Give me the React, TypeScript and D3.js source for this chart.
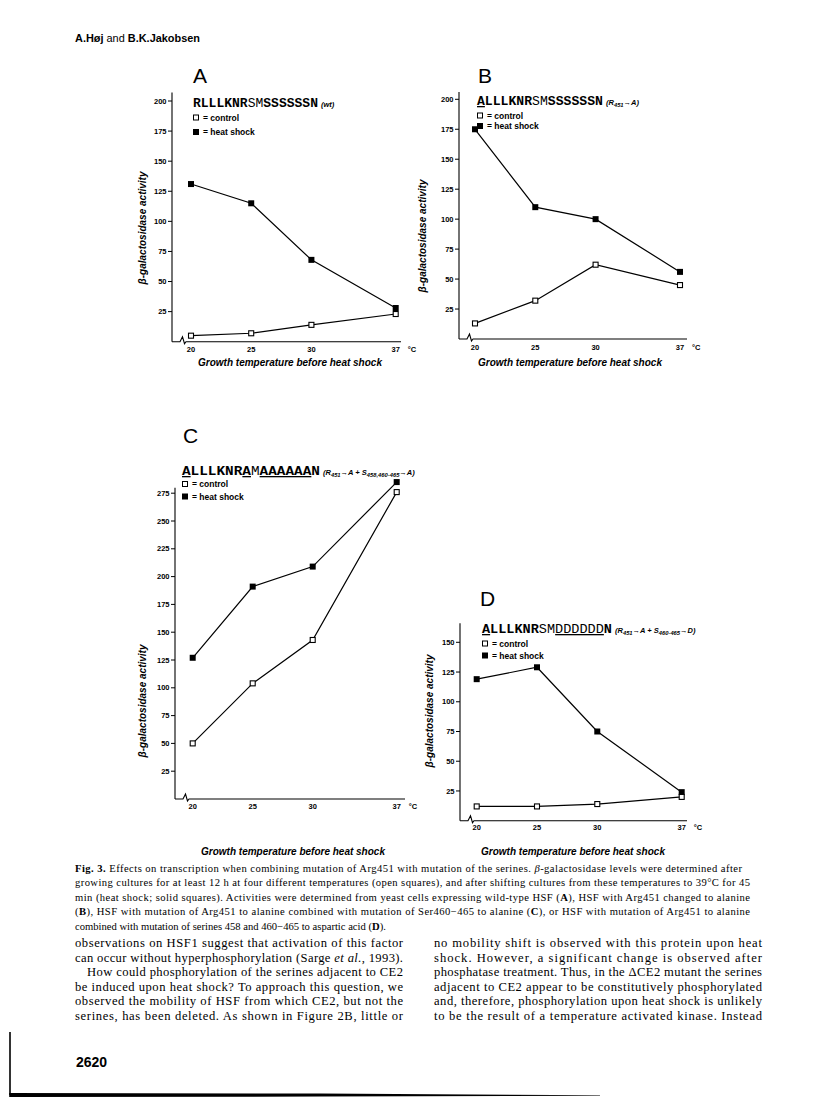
import React from 'react';
import * as d3 from 'd3';

// ---------- data ----------
const temps = [20, 25, 30, 37];
const tempLabels = ['20', '25', '30', '37'];
const aControl = [5, 7, 14, 23];
const aHeat = [131, 115, 68, 28];
const bControl = [13, 32, 62, 45];
const bHeat = [175, 110, 100, 56];
const cControl = [50, 104, 143, 276];
const cHeat = [127, 191, 209, 285];
const dControl = [12, 12, 14, 20];
const dHeat = [119, 129, 75, 24];
const yTicksAB = [25, 50, 75, 100, 125, 150, 175, 200];
const yTicksC = [25, 50, 75, 100, 125, 150, 175, 200, 225, 250, 275];
const yTicksD = [25, 50, 75, 100, 125, 150];

type Seg = { t: string; b?: boolean; u?: boolean };
type NoteSeg = { t: string; sub?: boolean };

const seqA: Seg[] = [{ t: 'RLLLKNR', b: true }, { t: 'SM' }, { t: 'SSSSSSN', b: true }];
const noteA: NoteSeg[] = [{ t: '(wt)' }];
const seqB: Seg[] = [{ t: 'A', b: true, u: true }, { t: 'LLLKNR', b: true }, { t: 'SM' }, { t: 'SSSSSSN', b: true }];
const noteB: NoteSeg[] = [{ t: '(R' }, { t: '451', sub: true }, { t: '\u2192A)' }];
const seqC: Seg[] = [{ t: 'A', b: true, u: true }, { t: 'LLLKNR', b: true }, { t: 'A', b: true, u: true }, { t: 'M' }, { t: 'AAAAAA', b: true, u: true }, { t: 'N', b: true }];
const noteC: NoteSeg[] = [{ t: '(R' }, { t: '451', sub: true }, { t: '\u2192A + S' }, { t: '458,460-465', sub: true }, { t: '\u2192A)' }];
const seqD: Seg[] = [{ t: 'A', b: true, u: true }, { t: 'LLLKNR', b: true }, { t: 'SM' }, { t: 'DDDDDD', u: true }, { t: 'N', b: true }];
const noteD: NoteSeg[] = [{ t: '(R' }, { t: '451', sub: true }, { t: '\u2192A + S' }, { t: '460-465', sub: true }, { t: '\u2192D)' }];

// ---------- layout ----------
type Layout = {
  letter: string; axisX: number; x20: number; x37: number; y0: number; refVal: number; refPx: number;
  yTop: number; xEnd: number; letterX: number; letterY: number; seqX: number; seqY: number; seqW: number;
  ctrlY: number; heatY: number; yLabX: number; yLabY: number; xLabX: number; xLabY: number; tickY: number;
};

const layA: Layout = { letter: 'A', axisX: 172, x20: 191, x37: 395.7, y0: 341.7, refVal: 200, refPx: 101, yTop: 207, xEnd: 401,
  letterX: 193, letterY: 83, seqX: 193, seqY: 107, seqW: 125, ctrlY: 120.5, heatY: 135, yLabX: 146, yLabY: 228, xLabX: 290, xLabY: 366, tickY: 352 };
const layB: Layout = { letter: 'B', axisX: 459, x20: 475, x37: 680, y0: 339, refVal: 200, refPx: 99.3, yTop: 206, xEnd: 687,
  letterX: 478, letterY: 83, seqX: 477, seqY: 105, seqW: 126, ctrlY: 118.5, heatY: 129, yLabX: 426, yLabY: 236, xLabX: 570, xLabY: 366, tickY: 350 };
const layC: Layout = { letter: 'C', axisX: 175, x20: 192.7, x37: 396.7, y0: 799, refVal: 275, refPx: 493.2, yTop: 280, xEnd: 405,
  letterX: 183, letterY: 443, seqX: 182, seqY: 475, seqW: 138, ctrlY: 487, heatY: 499.5, yLabX: 146, yLabY: 701, xLabX: 293, xLabY: 855, tickY: 809 };
const layD: Layout = { letter: 'D', axisX: 460, x20: 476.7, x37: 681.7, y0: 820.7, refVal: 150, refPx: 642.3, yTop: 166, xEnd: 687,
  letterX: 480, letterY: 606, seqX: 482, seqY: 633, seqW: 130, ctrlY: 646.5, heatY: 658.5, yLabX: 433, yLabY: 711, xLabX: 573, xLabY: 855, tickY: 830 };

const SANS = 'Liberation Sans, Arial, sans-serif';
const SERIF = 'Liberation Serif, Times New Roman, serif';
const MONO = 'Liberation Mono, Courier New, monospace';

function Panel({ L, control, heat, yTicks, seq, note }: { L: Layout; control: number[]; heat: number[]; yTicks: number[]; seq: Seg[]; note: NoteSeg[] }) {
  const x = d3.scaleLinear().domain([20, 37]).range([L.x20, L.x37]);
  const y = d3.scaleLinear().domain([0, L.refVal]).range([L.y0, L.refPx]);
  const line = d3.line<number>().x((_, i) => x(temps[i])).y((d) => y(d));
  const ax = L.axisX, by = y(0);
  const xAxisPath = `M${ax},${by} H${ax + 8} L${ax + 10.5},${by - 5} L${ax + 12.5},${by + 2} L${ax + 14},${by} H${L.xEnd}`;
  const sq = 5;
  return (
    <g>
      <text x={L.letterX} y={L.letterY} fontFamily={SANS} fontSize={21}>{L.letter}</text>
      {/* axes */}
      <line x1={ax} x2={ax} y1={y(L.yTop)} y2={by} stroke="#000" strokeWidth={1.1} />
      <path d={xAxisPath} fill="none" stroke="#000" strokeWidth={1.1} />
      {yTicks.map((t) => (
        <g key={t}>
          <line x1={ax - 4} x2={ax} y1={y(t)} y2={y(t)} stroke="#000" strokeWidth={1} />
          <text x={ax - 5.5} y={y(t)} dy="0.35em" textAnchor="end" fontFamily={SANS} fontWeight="bold" fontSize={7.5}>{t}</text>
        </g>
      ))}
      {temps.map((t, i) => (
        <text key={t} x={x(t)} y={L.tickY} textAnchor="middle" fontFamily={SANS} fontWeight="bold" fontSize={7.5}>{tempLabels[i]}</text>
      ))}
      <text x={x(37) + 12} y={L.tickY} fontFamily={SANS} fontWeight="bold" fontSize={7.5}>°C</text>
      <text x={L.xLabX} y={L.xLabY} textAnchor="middle" fontFamily={SANS} fontWeight="bold" fontStyle="italic" fontSize={10}>Growth temperature before heat shock</text>
      <text transform={`translate(${L.yLabX},${L.yLabY}) rotate(-90)`} textAnchor="middle" fontFamily={SANS} fontWeight="bold" fontStyle="italic" fontSize={10}>β-galactosidase activity</text>
      {/* series */}
      <path d={line(heat) || ''} fill="none" stroke="#000" strokeWidth={1.2} />
      <path d={line(control) || ''} fill="none" stroke="#000" strokeWidth={1.2} />
      {heat.map((v, i) => (
        <rect key={'h' + i} x={x(temps[i]) - sq / 2 - 0.5} y={y(v) - sq / 2 - 0.5} width={sq + 1} height={sq + 1} fill="#000" />
      ))}
      {control.map((v, i) => (
        <rect key={'c' + i} x={x(temps[i]) - sq / 2} y={y(v) - sq / 2} width={sq} height={sq} fill="#fff" stroke="#000" strokeWidth={1.1} />
      ))}
      {/* title sequence */}
      <text x={L.seqX} y={L.seqY} fontFamily={MONO} fontSize={13} textLength={L.seqW} lengthAdjust="spacingAndGlyphs">
        {seq.map((s, i) => (
          <tspan key={i} fontWeight={s.b ? 'bold' : 'normal'} style={s.u ? { textDecoration: 'underline' } : undefined}>{s.t}</tspan>
        ))}
      </text>
      <text x={L.seqX + L.seqW + 3} y={L.seqY} fontFamily={SANS} fontStyle="italic" fontWeight="bold" fontSize={7.5}>
        {note.map((n, i) => (
          n.sub
            ? <tspan key={i} fontSize={5.8} dy={2}>{n.t}</tspan>
            : <tspan key={i} dy={i > 0 && note[i - 1].sub ? -2 : 0}>{n.t}</tspan>
        ))}
      </text>
      {/* legend */}
      <rect x={L.seqX + 0.5} y={L.ctrlY - 5.5} width={5} height={5} fill="#fff" stroke="#000" strokeWidth={1} />
      <text x={L.seqX + 10} y={L.ctrlY} fontFamily={SANS} fontWeight="bold" fontSize={8.5}>= control</text>
      <rect x={L.seqX} y={L.heatY - 6} width={6} height={6} fill="#000" />
      <text x={L.seqX + 10} y={L.heatY} fontFamily={SANS} fontWeight="bold" fontSize={8.5}>= heat shock</text>
    </g>
  );
}

// ---------- text ----------
const captionX = 75;
const captionW = 675;
const bodyW = 328;
const col1X = 75;
const col2X = 434;

export default function App() {
  const capY = [871.5, 886, 900.5, 915, 929.5];
  const bodyY = [947, 961.5, 976, 990.5, 1005, 1019.5];
  const col1 = [
    'observations on HSF1 suggest that activation of this factor',
    null,
    'How could phosphorylation of the serines adjacent to CE2',
    'be induced upon heat shock? To approach this question, we',
    'observed the mobility of HSF from which CE2, but not the',
    'serines, has been deleted. As shown in Figure 2B, little or',
  ];
  const col2 = [
    'no mobility shift is observed with this protein upon heat',
    'shock. However, a significant change is observed after',
    'phosphatase treatment. Thus, in the \u0394CE2 mutant the serines',
    'adjacent to CE2 appear to be constitutively phosphorylated',
    'and, therefore, phosphorylation upon heat shock is unlikely',
    'to be the result of a temperature activated kinase. Instead',
  ];
  return (
    <svg width={816} height={1104} style={{ position: 'absolute', left: 0, top: 0, background: '#fff' }}>
      <rect x={0} y={0} width={816} height={1104} fill="#fff" />
      <text x={75} y={42} fontFamily={SANS} fontSize={11} textLength={125} lengthAdjust="spacingAndGlyphs">
        <tspan fontWeight="bold">A.Høj</tspan> and <tspan fontWeight="bold">B.K.Jakobsen</tspan>
      </text>

      <Panel L={layA} control={aControl} heat={aHeat} yTicks={yTicksAB} seq={seqA} note={noteA} />
      <Panel L={layB} control={bControl} heat={bHeat} yTicks={yTicksAB} seq={seqB} note={noteB} />
      <Panel L={layC} control={cControl} heat={cHeat} yTicks={yTicksC} seq={seqC} note={noteC} />
      <Panel L={layD} control={dControl} heat={dHeat} yTicks={yTicksD} seq={seqD} note={noteD} />

      {/* caption */}
      <g fontFamily={SERIF} fontSize={10.6}>
        <text x={captionX} y={capY[0]} textLength={captionW - 8} lengthAdjust="spacing">
          <tspan fontWeight="bold">Fig. 3.</tspan> Effects on transcription when combining mutation of Arg451 with mutation of the serines. <tspan fontStyle="italic">β</tspan>-galactosidase levels were determined after
        </text>
        <text x={captionX} y={capY[1]} textLength={captionW} lengthAdjust="spacing">
          growing cultures for at least 12 h at four different temperatures (open squares), and after shifting cultures from these temperatures to 39°C for 45
        </text>
        <text x={captionX} y={capY[2]} textLength={captionW} lengthAdjust="spacing">
          min (heat shock; solid squares). Activities were determined from yeast cells expressing wild-type HSF (<tspan fontWeight="bold">A</tspan>), HSF with Arg451 changed to alanine
        </text>
        <text x={captionX} y={capY[3]} textLength={captionW} lengthAdjust="spacing">
          (<tspan fontWeight="bold">B</tspan>), HSF with mutation of Arg451 to alanine combined with mutation of Ser460{'\u2212'}465 to alanine (<tspan fontWeight="bold">C</tspan>), or HSF with mutation of Arg451 to alanine
        </text>
        <text x={captionX} y={capY[4]}>
          combined with mutation of serines 458 and 460{'\u2212'}465 to aspartic acid (<tspan fontWeight="bold">D</tspan>).
        </text>
      </g>

      {/* body text */}
      <g fontFamily={SERIF} fontSize={12.6}>
        {col1.map((s, i) =>
          s === null ? (
            <text key={i} x={col1X} y={bodyY[i]} textLength={bodyW} lengthAdjust="spacing">
              can occur without hyperphosphorylation (Sarge <tspan fontStyle="italic">et al.</tspan>, 1993).
            </text>
          ) : (
            <text key={i} x={i === 2 ? col1X + 12 : col1X} y={bodyY[i]} textLength={i === 2 ? bodyW - 12 : bodyW} lengthAdjust="spacing">{s}</text>
          )
        )}
        {col2.map((s, i) => (
          <text key={i} x={col2X} y={bodyY[i]} textLength={bodyW} lengthAdjust="spacing">{s}</text>
        ))}
      </g>

      <text x={76} y={1067} fontFamily={SANS} fontWeight="bold" fontSize={14}>2620</text>

      {/* page border */}
      <line x1={10} x2={10} y1={1032} y2={1095} stroke="#000" strokeWidth={1.6} />
      <path d="M9.2,1093 L320,1093.6 L600,1095.2 L600,1095.8 L320,1096.6 L9.2,1097 Z" fill="#000" />
    </svg>
  );
}
